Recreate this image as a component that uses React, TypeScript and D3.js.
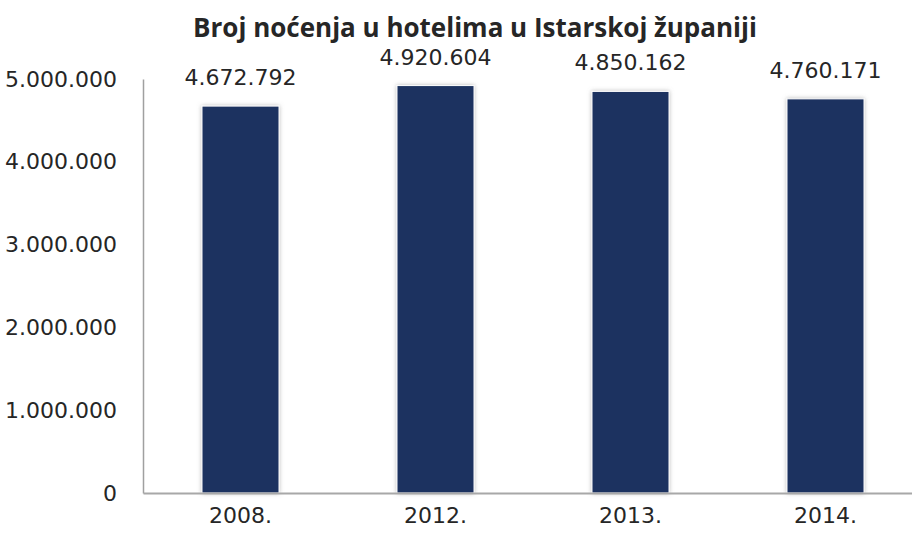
import React, { useEffect, useRef } from 'react';
import * as d3 from 'd3';

const years = ['2008.', '2012.', '2013.', '2014.'];
const nights = [4672792, 4920604, 4850162, 4760171];
const yTicks = [0, 1000000, 2000000, 3000000, 4000000, 5000000];

const fmt = (v: number) => d3.format(',')(v).replace(/,/g, '.');

export default function App() {
    const svgRef = useRef<SVGSVGElement>(null);

    useEffect(() => {
        if (!svgRef.current) return;
        const width = 912;
        const height = 538;
        const margin = { top: 79, right: -11, bottom: 45, left: 143 };
        const innerWidth = width - margin.left - margin.right;
        const innerHeight = height - margin.top - margin.bottom;

        d3.select(svgRef.current).selectAll('*').remove();
        const svg = d3.select(svgRef.current)
            .attr('width', width)
            .attr('height', height);

        const defs = svg.append('defs');
        const filter = defs.append('filter')
            .attr('id', 'bar-shadow')
            .attr('x', '-20%').attr('y', '-5%')
            .attr('width', '140%').attr('height', '110%');
        filter.append('feDropShadow')
            .attr('dx', 0).attr('dy', 0)
            .attr('stdDeviation', 2)
            .attr('flood-color', '#808080')
            .attr('flood-opacity', 0.55);

        // title
        svg.append('text')
            .attr('x', 475)
            .attr('y', 37)
            .attr('text-anchor', 'middle')
            .attr('font-family', '"Open Sans", sans-serif')
            .attr('font-weight', 'bold')
            .attr('font-size', 26)
            .attr('fill', '#262626')
            .text('Broj noćenja u hotelima u Istarskoj županiji');

        const g = svg.append('g')
            .attr('transform', `translate(${margin.left},${margin.top})`);

        const x = d3.scaleBand<string>()
            .domain(years)
            .range([0, innerWidth])
            .paddingInner(0.605)
            .paddingOuter(0.3025);

        const y = d3.scaleLinear()
            .domain([0, 5000000])
            .range([innerHeight, 0]);

        // y axis
        const yAxis = d3.axisLeft(y)
            .tickValues(yTicks)
            .tickSize(0)
            .tickPadding(26)
            .tickFormat(d => fmt(d as number));

        g.append('g')
            .call(yAxis)
            .call(a => a.select('.domain').attr('stroke', '#a0a0a0').attr('stroke-width', 1.5))
            .selectAll('text')
            .attr('fill', '#262626')
            .attr('font-family', '"DejaVu Sans", sans-serif')
            .style('font-size', '22px');

        // bars
        g.selectAll('rect.bar')
            .data(nights)
            .join('rect')
            .attr('class', 'bar')
            .attr('x', (_, i) => x(years[i]) as number)
            .attr('y', d => y(d))
            .attr('width', x.bandwidth())
            .attr('height', d => innerHeight - y(d))
            .attr('fill', '#1c3160')
            .attr('stroke', '#ffffff')
            .attr('stroke-width', 1)
            .attr('filter', 'url(#bar-shadow)');

        // value labels
        g.selectAll('text.val')
            .data(nights)
            .join('text')
            .attr('class', 'val')
            .attr('x', (_, i) => (x(years[i]) as number) + x.bandwidth() / 2)
            .attr('y', d => y(d) - 21)
            .attr('text-anchor', 'middle')
            .attr('font-family', '"DejaVu Sans", sans-serif')
            .attr('font-size', 22)
            .attr('fill', '#262626')
            .text(d => fmt(d));

        // x axis
        const xAxis = d3.axisBottom(x)
            .tickSize(0)
            .tickPadding(14);

        g.append('g')
            .attr('transform', `translate(0,${innerHeight})`)
            .call(xAxis)
            .call(a => a.select('.domain').attr('stroke', '#a8a8a8').attr('stroke-width', 2))
            .selectAll('text')
            .attr('fill', '#262626')
            .attr('font-family', '"DejaVu Sans", sans-serif')
            .style('font-size', '22px');
    }, []);

    return (
        <div style={{ position: 'absolute', left: 0, top: 0, background: '#fff' }}>
            <svg ref={svgRef} style={{ display: 'block' }}></svg>
        </div>
    );
}
